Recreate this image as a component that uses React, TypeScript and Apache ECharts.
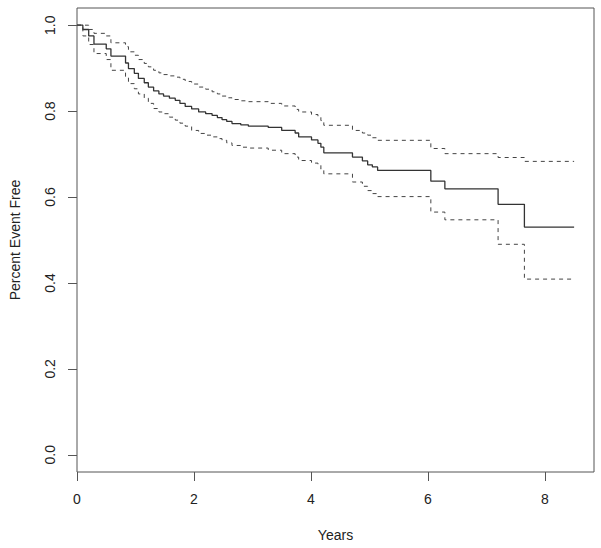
import React, { useEffect, useRef } from "react";
import * as echarts from "echarts";

const times = [0, 0.1, 0.2, 0.29, 0.5, 0.58, 0.83, 0.88, 0.98, 1.05, 1.15, 1.22, 1.31, 1.4, 1.48, 1.58, 1.68, 1.76, 1.85, 1.96, 2.08, 2.2, 2.31, 2.4, 2.48, 2.56, 2.65, 2.8, 2.93, 3.27, 3.5, 3.73, 3.79, 4.01, 4.12, 4.17, 4.22, 4.71, 4.88, 4.97, 5.05, 5.14, 6.05, 6.29, 7.2, 7.65, 8.5];

const survival = [1.0, 0.99, 0.975, 0.956, 0.945, 0.928, 0.912, 0.899, 0.888, 0.876, 0.866, 0.856, 0.847, 0.84, 0.835, 0.83, 0.825, 0.818, 0.811, 0.805, 0.798, 0.794, 0.79, 0.785, 0.78, 0.776, 0.771, 0.768, 0.765, 0.762, 0.755, 0.749, 0.74, 0.733, 0.725, 0.716, 0.703, 0.693, 0.684, 0.675, 0.67, 0.662, 0.637, 0.619, 0.583, 0.53, 0.53];

const upperCI = [1.0, 1.0, 0.99, 0.981, 0.975, 0.959, 0.95, 0.938, 0.93, 0.92, 0.911, 0.903, 0.895, 0.889, 0.885, 0.882, 0.879, 0.874, 0.869, 0.863, 0.856, 0.851, 0.845, 0.84, 0.835, 0.831, 0.827, 0.824, 0.822, 0.818, 0.812, 0.804, 0.798, 0.792, 0.786, 0.778, 0.767, 0.755, 0.749, 0.744, 0.738, 0.732, 0.713, 0.701, 0.692, 0.683, 0.683];

const lowerCI = [1.0, 0.975, 0.955, 0.934, 0.92, 0.895, 0.878, 0.864, 0.852, 0.84, 0.83, 0.818, 0.806, 0.798, 0.794, 0.786, 0.779, 0.772, 0.765, 0.755, 0.748, 0.744, 0.74, 0.736, 0.732, 0.726, 0.72, 0.716, 0.714, 0.709, 0.701, 0.693, 0.685, 0.679, 0.674, 0.665, 0.654, 0.635, 0.625, 0.615, 0.608, 0.601, 0.565, 0.547, 0.49, 0.409, 0.409];

const xTicks = [0, 2, 4, 6, 8];
const yTicks = [0, 0.2, 0.4, 0.6, 0.8, 1.0];

const FONT = "'Liberation Sans', Arial, sans-serif";
const TEXT = "#222";

export default function App() {
  const ref = useRef<HTMLDivElement>(null);
  useEffect(() => {
    if (!ref.current) return;
    const chart = echarts.init(ref.current, undefined, { renderer: "svg" });
    const mk = (vals: number[]) => times.map((t, i) => [t, vals[i]]);
    chart.setOption({
      animation: false,
      backgroundColor: "#fff",
      grid: {
        left: 76,
        right: 7,
        top: 8,
        bottom: 76,
        show: true,
        borderColor: "#555",
        borderWidth: 1,
        backgroundColor: "transparent",
      },
      xAxis: {
        type: "value",
        min: 0,
        max: 8.84,
        name: "Years",
        nameLocation: "middle",
        nameGap: 56,
        nameTextStyle: { fontFamily: FONT, fontSize: 14, color: TEXT },
        axisLine: { show: false, onZero: false },
        splitLine: { show: false },
        axisTick: { show: true, length: 9, customValues: xTicks, lineStyle: { color: "#555" } },
        axisLabel: {
          customValues: xTicks,
          margin: 20,
          fontFamily: FONT,
          fontSize: 14,
          color: TEXT,
        },
      },
      yAxis: {
        type: "value",
        min: -0.04,
        max: 1.04,
        name: "Percent Event Free",
        nameLocation: "middle",
        nameGap: 55,
        nameTextStyle: { fontFamily: FONT, fontSize: 14, color: TEXT },
        axisLine: { show: false, onZero: false },
        splitLine: { show: false },
        axisTick: { show: true, length: 9, customValues: yTicks, lineStyle: { color: "#555" } },
        axisLabel: {
          customValues: yTicks,
          rotate: 90,
          margin: 20,
          fontFamily: FONT,
          fontSize: 14,
          color: TEXT,
          formatter: (v: number) => v.toFixed(1),
        },
      },
      series: [
        {
          type: "line",
          step: "end",
          data: mk(survival),
          symbol: "none",
          lineStyle: { color: "#333", width: 1.3 },
        },
        {
          type: "line",
          step: "end",
          data: mk(upperCI),
          symbol: "none",
          lineStyle: { color: "#444", width: 1, type: [4, 4] },
        },
        {
          type: "line",
          step: "end",
          data: mk(lowerCI),
          symbol: "none",
          lineStyle: { color: "#444", width: 1, type: [4, 4] },
        },
      ],
    });
    return () => chart.dispose();
  }, []);
  return (
    <div
      ref={ref}
      style={{ position: "absolute", left: 0, top: 0, width: 601, height: 548, background: "#fff" }}
    />
  );
}
